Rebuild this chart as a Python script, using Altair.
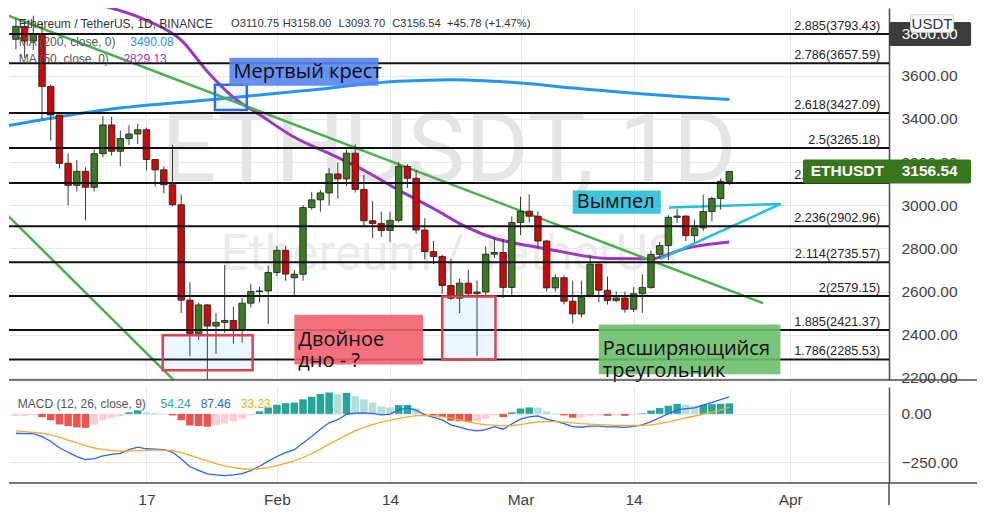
import altair as alt
import pandas as pd

# ================= DATA =================
candle_first_day = "2022-01-02"
candle_last_day = "2022-03-25"

opens = [3769, 3829, 3761, 3794, 3550, 3418, 3194, 3092, 3157, 3083,
         3239, 3372, 3250, 3309, 3330, 3350, 3212, 3164, 3095, 3002,
         2560, 2406, 2538, 2440, 2457, 2466, 2423, 2546, 2600, 2603,
         2688, 2791, 2664, 2680, 2989, 3025, 3057, 3145, 3122, 3241,
         3073, 2928, 2915, 2883, 2930, 3180, 3125, 2885, 2785, 2762,
         2628, 2569, 2639, 2590, 2598, 2773, 2781, 2619, 2920, 2972,
         2949, 2834, 2617, 2664, 2555, 2496, 2576, 2727, 2606, 2558,
         2570, 2518, 2590, 2619, 2772, 2813, 2944, 2950, 2859, 2895,
         2971, 3031, 3110.75]
highs = [3864, 3856, 3878, 3845, 3560, 3420, 3240, 3210, 3176, 3260,
         3413, 3409, 3346, 3370, 3376, 3360, 3212, 3180, 3280, 3050,
         2643, 2548, 2542, 2500, 2724, 2530, 2571, 2636, 2622, 2720,
         2810, 2810, 2700, 3000, 3062, 3070, 3172, 3197, 3258, 3282,
         3140, 3020, 2970, 2970, 3200, 3190, 3163, 2940, 2835, 2770,
         2750, 2660, 2700, 2650, 2810, 2850, 2842, 2948, 3040, 3050,
         2972, 2840, 2680, 2675, 2650, 2650, 2770, 2730, 2670, 2600,
         2600, 2620, 2680, 2790, 2830, 2954, 2982, 2952, 2933, 3049,
         3040, 3124, 3158.00]
lows = [3722, 3683, 3720, 3400, 3300, 3170, 3000, 3063, 2930, 3064,
        3222, 3230, 3180, 3279, 3284, 3160, 3086, 3055, 2995, 2500,
        2300, 2375, 2160, 2310, 2408, 2358, 2363, 2527, 2550, 2450,
        2672, 2650, 2580, 2650, 2980, 2970, 2998, 3030, 3090, 3059,
        2900, 2848, 2853, 2830, 2920, 3080, 2868, 2750, 2728, 2590,
        2560, 2500, 2580, 2300, 2575, 2755, 2570, 2585, 2862, 2920,
        2802, 2600, 2600, 2540, 2452, 2480, 2576, 2550, 2540, 2550,
        2502, 2505, 2500, 2612, 2752, 2745, 2917, 2834, 2829, 2880,
        2925, 2980, 3093.70]
closes = [3829, 3761, 3794, 3550, 3418, 3194, 3092, 3157, 3083, 3239,
          3372, 3250, 3309, 3330, 3350, 3212, 3164, 3095, 3002, 2560,
          2406, 2538, 2440, 2457, 2466, 2423, 2546, 2600, 2603, 2688,
          2791, 2681, 2680, 2989, 3025, 3057, 3145, 3122, 3241, 3073,
          2928, 2915, 2883, 2930, 3180, 3125, 2885, 2785, 2762, 2628,
          2569, 2639, 2590, 2598, 2773, 2781, 2619, 2920, 2972, 2949,
          2834, 2617, 2664, 2555, 2496, 2576, 2727, 2606, 2558, 2570,
          2518, 2590, 2619, 2772, 2813, 2944, 2950, 2859, 2895, 2971,
          3031, 3111, 3156.54]

macd_hist = [-12, -10, -6, -17, -33, -55, -63, -70, -72, -55,
             -33, -20, -12, 8, 18, 8, 5, 2, -8, -33,
             -60, -63, -66, -58, -50, -38, -25, -8, 13, 33,
             47, 55, 58, 75, 88, 103, 110, 103, 108, 92,
             75, 58, 38, 33, 45, 46, 28, 3, -8, -17,
             -35, -38, -40, -38, -25, -8, -17, 8, 28, 33,
             32, 13, 3, -8, -20, -19, -10, -8, -10, -8,
             -10, -4, 3, 17, 30, 42, 52, 47, 42, 47,
             50, 52, 54.24]
macd_line = [-100, -102, -102, -117, -141, -175, -198, -220, -236, -231,
             -217, -209, -204, -184, -172, -180, -182, -185, -197, -233,
             -273, -291, -309, -315, -318, -315, -308, -293, -270, -244,
             -220, -200, -185, -150, -117, -79, -46, -30, -2, 4,
             5, 3, -5, -1, 21, 31, 19, -5, -18, -31,
             -57, -69, -81, -88, -81, -66, -79, -52, -27, -15,
             -10, -27, -37, -50, -66, -69, -63, -63, -67, -67,
             -70, -65, -57, -40, -20, 1, 21, 27, 31, 45,
             59, 73, 87.46]
macd_signal = [-88, -92, -96, -100, -108, -120, -135, -150, -164, -176,
               -184, -189, -192, -192, -190, -188, -187, -187, -189, -200,
               -213, -228, -243, -257, -268, -277, -283, -285, -283, -277,
               -267, -255, -243, -225, -205, -182, -156, -133, -110, -88,
               -70, -55, -43, -34, -24, -15, -9, -8, -10, -14,
               -22, -31, -41, -50, -56, -58, -62, -60, -55, -48,
               -42, -40, -40, -42, -46, -50, -53, -55, -57, -59,
               -60, -61, -60, -57, -50, -41, -31, -20, -11, -2,
               9, 21, 33.23]

ma200_dates = ["2022-01-01", "2022-01-13", "2022-01-24", "2022-02-04", "2022-02-15",
               "2022-02-21", "2022-02-27", "2022-03-08", "2022-03-20", "2022-03-25"]
ma200_values = [3368, 3446, 3488, 3530, 3574, 3582, 3572, 3540, 3502, 3490.08]

ma50_dates = ["2022-01-12", "2022-01-17", "2022-01-21", "2022-01-24", "2022-01-27",
              "2022-01-30", "2022-02-03", "2022-02-07", "2022-02-11", "2022-02-15",
              "2022-02-19", "2022-02-22", "2022-02-26", "2022-03-02", "2022-03-05",
              "2022-03-11", "2022-03-16", "2022-03-20", "2022-03-25"]
ma50_values = [3925, 3857, 3765, 3620, 3500, 3420, 3315, 3240, 3162, 3070,
               2985, 2915, 2847, 2812, 2790, 2753, 2752, 2800, 2829.13]

fib_levels = ["2.885", "2.786", "2.618", "2.5", "2.382", "2.236", "2.114", "2", "1.885", "1.786"]
fib_prices = [3793.43, 3657.59, 3427.09, 3265.18, 3103.30, 2902.96, 2735.57, 2579.15, 2421.37, 2285.53]

trend_ids = ["g1", "g1", "g2", "g2", "c1", "c1", "c2", "c2"]
trend_times = ["2022-01-01 00:00", "2022-03-28 21:00", "2022-01-01 00:00", "2022-01-21 06:00",
               "2022-03-18 02:00", "2022-03-30 22:00", "2022-03-17 01:00", "2022-03-30 22:00"]
trend_prices = [3881, 2546, 2955, 2145, 2990, 3006, 2751, 3006]

hl_ids = ["cross", "bottom1", "bottom2"]
hl_t1 = ["2022-01-24 21:00", "2022-01-18 21:00", "2022-02-20 00:00"]
hl_t2 = ["2022-01-28 13:00", "2022-01-29 05:00", "2022-02-26 03:00"]
hl_p1 = [3558, 2397, 2577]
hl_p2 = [3441, 2235, 2285]

lab_ids = ["cross", "bottom", "pennant", "triangle"]
lab_texts = ["Мертвый крест", "Двойное\nдно - ?", "Вымпел", "Расширяющийся\nтреугольник"]
lab_t1 = ["2022-01-26 13:00", "2022-02-03 00:00", "2022-03-07 00:00", "2022-03-10 00:00"]
lab_t2 = ["2022-02-12 16:00", "2022-02-17 19:00", "2022-03-17 03:00", "2022-03-30 21:00"]
lab_p1 = [3684, 2492, 3068, 2447]
lab_p2 = [3554, 2262, 2960, 2217]

price_ticks = [2200, 2400, 2600, 2800, 3000, 3200, 3400, 3600, 3800]
macd_ticks = [0, -250]
date_ticks = ["2022-01-17", "2022-02-01", "2022-02-14", "2022-03-01", "2022-03-14", "2022-04-01"]
date_tick_labels = ["17", "Feb", "14", "Mar", "14", "Apr"]

# ================= LAYOUT / STYLE =================
W = 880
H1 = 372
H2 = 96
SX = W / 900.0
SY = H1 / 383.0
SY2 = H2 / 99.0
FONT = "Liberation Sans"
AFONT = "Open Sans"
GRID = "#e8e8e8"
LABEL = "#3f3f3f"
FRAME = "#4a4a4a"
GREEN = "#3b7b22"
RED = "#cc0a0a"
ORANGE = "#f5ac2a"
P_MIN, P_MAX = 2190, 3914
PPP = (P_MAX - P_MIN) / H1  # price per pixel

BASE = pd.Timestamp("2022-01-01")


def day(s):
    return (pd.Timestamp(s) - BASE) / pd.Timedelta(days=1)


cdays = [day(d) for d in pd.date_range(candle_first_day, candle_last_day, freq="D")]
candles = pd.DataFrame({"t": cdays, "o": opens, "h": highs, "l": lows, "c": closes})

cats = []
prev = None
for hv in macd_hist:
    if hv >= 0:
        cats.append("ug" if (prev is None or hv > prev) else "uf")
    else:
        cats.append("df" if (prev is not None and hv < prev) else "dg")
    prev = hv
macd_df = pd.DataFrame({"t": cdays, "hist": macd_hist, "macd": macd_line,
                        "signal": macd_signal, "cat": cats})

ma200_df = pd.DataFrame({"t": [day(d) for d in ma200_dates], "v": ma200_values})
ma50_df = pd.DataFrame({"t": [day(d) for d in ma50_dates], "v": ma50_values})
fib_df = pd.DataFrame({"p": fib_prices,
                       "lbl": [f"{l}({p:.2f})" for l, p in zip(fib_levels, fib_prices)]})
trend_df = pd.DataFrame({"id": trend_ids, "t": [day(s) for s in trend_times], "p": trend_prices})
hl_df = pd.DataFrame({"id": hl_ids, "t1": [day(s) for s in hl_t1], "t2": [day(s) for s in hl_t2],
                      "p1": hl_p1, "p2": hl_p2})
lab_df = pd.DataFrame({"id": lab_ids, "txt": lab_texts,
                       "t1": [day(s) for s in lab_t1], "t2": [day(s) for s in lab_t2],
                       "p1": lab_p1, "p2": lab_p2})
lab_df["pm"] = (lab_df["p1"] + lab_df["p2"]) / 2

last_close = closes[-1]
eth_df = pd.DataFrame({"p": [last_close], "y1": [last_close + 12 * PPP], "y2": [last_close - 12 * PPP]})
top_df = pd.DataFrame({"p": [fib_prices[0]], "y1": [fib_prices[0] + 12 * PPP], "y2": [fib_prices[0] - 12 * PPP]})

tick_days = [day(d) for d in date_ticks]
label_expr = "".join(f"datum.value == {d} ? '{l}' : " for d, l in zip(tick_days, date_tick_labels)) + "''"

XS = alt.Scale(domain=[0.78, 100.78], nice=False, zero=False)
PS = alt.Scale(domain=[P_MIN, P_MAX], nice=False, zero=False)
MS = alt.Scale(domain=[-356.5, 138.5], nice=False, zero=False)

AX_MAIN_X = alt.Axis(values=tick_days, labels=False, ticks=False, tickSize=0, domain=False,
                     grid=True, gridColor=GRID, title=None)
AX_MAIN_Y = alt.Axis(orient="right", values=price_ticks, format=".2f", labelFont=FONT,
                     labelFontSize=15.5, labelColor=LABEL, ticks=False, tickSize=0, labelPadding=12,
                     domain=True, domainColor=FRAME, domainWidth=1.5, grid=True, gridColor=GRID,
                     title=None)
AX_M_X = alt.Axis(values=tick_days, labelExpr=label_expr, labelFont=FONT, labelFontSize=15.5,
                  labelColor=LABEL, ticks=False, tickSize=0, labelPadding=9, domain=False,
                  grid=True, gridColor=GRID, title=None)
AX_M_Y = alt.Axis(orient="right", values=macd_ticks, format=".2f", labelFont=FONT,
                  labelFontSize=15.5, labelColor=LABEL, ticks=False, tickSize=0, labelPadding=12,
                  domain=True, domainColor=FRAME, domainWidth=1.5, grid=True, gridColor=GRID,
                  title=None)


def mx(f):
    return alt.X(f"{f}:Q", scale=XS, axis=AX_MAIN_X)


def my(f):
    return alt.Y(f"{f}:Q", scale=PS, axis=AX_MAIN_Y)


def qx(f):
    return alt.X(f"{f}:Q", scale=XS, axis=AX_M_X)


def qy(f):
    return alt.Y(f"{f}:Q", scale=MS, axis=AX_M_Y)


one = pd.DataFrame({"k": [0]})


def ptext(txt, x, y, size, color, font=FONT, weight="normal", align="left", baseline="middle"):
    return alt.Chart(one).mark_text(text=txt, font=font, fontSize=size, color=color,
                                    fontWeight=weight, align=align, baseline=baseline).encode(
        x=alt.value(x), y=alt.value(y))


def prect(x1, x2, y1, y2, **kw):
    return alt.Chart(one).mark_rect(**kw).encode(x=alt.value(x1), x2=alt.value(x2),
                                                 y=alt.value(y1), y2=alt.value(y2))


# ================= MAIN PANEL =================
wm1 = ptext("ETHUSDT, 1D", 450 * SX, 178 * SY, 100 * SY, "#e5e5e5", font="Roboto",
            align="center", baseline="alphabetic")
wm2 = ptext("Ethereum / TetherUS", 450 * SX, 270 * SY, 51 * SY, "#ebebeb", font="Roboto",
            align="center", baseline="alphabetic")

ma200 = alt.Chart(ma200_df).mark_line(color="#2196f3", strokeWidth=3, interpolate="monotone",
                                      clip=True).encode(x=mx("t"), y=my("v"))
ma50 = alt.Chart(ma50_df).mark_line(color="#9b38c0", strokeWidth=3, interpolate="monotone",
                                    clip=True).encode(x=mx("t"), y=my("v"))
trend = alt.Chart(trend_df).mark_line(strokeWidth=2.5, clip=True).encode(
    x=mx("t"), y=my("p"),
    stroke=alt.Stroke("id:N", scale=alt.Scale(domain=["g1", "g2", "c1", "c2"],
                                              range=["#4caf50", "#4caf50", "#1fc1dc", "#1fc1dc"]),
                      legend=None))

wicks = alt.Chart(candles).mark_rule(color="#3a3a3a", strokeWidth=1, clip=True).encode(
    x=mx("t"), y=my("l"), y2="h")
bodies = alt.Chart(candles).mark_bar(size=6.5, stroke="#1a1a1a", strokeWidth=0.8, clip=True).encode(
    x=mx("t"), y=my("o"), y2="c",
    fill=alt.condition("datum.c >= datum.o", alt.value(GREEN), alt.value(RED)))

fib_rules = alt.Chart(fib_df).mark_rule(color="#111111", strokeWidth=2).encode(y=my("p"))
fib_labels = alt.Chart(fib_df).mark_text(align="right", baseline="bottom", dy=-1, font=FONT,
                                         fontSize=12.7, color="#222222").encode(
    x=alt.value(W - 9 * SX), y=my("p"), text="lbl:N")

hl_blue = alt.Chart(hl_df).transform_filter("datum.id == 'cross'").mark_rect(
    fill="#2196f3", fillOpacity=0.09, stroke="#2f6ce5", strokeWidth=2.5).encode(
    x=mx("t1"), x2="t2", y=my("p1"), y2="p2")
hl_red = alt.Chart(hl_df).transform_filter("datum.id != 'cross'").mark_rect(
    fill="#2196f3", fillOpacity=0.09, stroke="#e2404f", strokeWidth=2.5).encode(
    x=mx("t1"), x2="t2", y=my("p1"), y2="p2")

lab_boxes = alt.Chart(lab_df).mark_rect(opacity=0.9).encode(
    x=mx("t1"), x2="t2", y=my("p1"), y2="p2",
    fill=alt.Fill("id:N", scale=alt.Scale(domain=["cross", "bottom", "pennant", "triangle"],
                                          range=["#5585f2", "#f2616f", "#27bfd8", "#6dbf6d"]),
                  legend=None))
lab_text = alt.Chart(lab_df).mark_text(align="left", baseline="middle", dx=4, font=AFONT,
                                       fontSize=20, lineBreak="\n", lineHeight=21.5,
                                       color="#0d0d0d").encode(
    x=mx("t1"), y=my("pm"), text="txt:N")

eth_box = alt.Chart(eth_df).mark_rect(fill="#38761d", cornerRadius=2).encode(
    x=alt.value(W - 88 * SX), x2=alt.value(W + 84 * SX), y=my("y1"), y2="y2")
eth_t1 = alt.Chart(eth_df).mark_text(text="ETHUSDT", align="left", baseline="middle", font=FONT,
                                     fontSize=15.5, fontWeight="bold", color="white").encode(
    x=alt.value(W - 80 * SX), y=my("p"))
eth_t2 = alt.Chart(eth_df).mark_text(text=f"{last_close:.2f}", align="left", baseline="middle",
                                     font=FONT, fontSize=15.5, fontWeight="bold",
                                     color="white").encode(x=alt.value(W + 13 * SX), y=my("p"))

top_box = alt.Chart(top_df).mark_rect(fill="#3c3c3c", cornerRadius=2).encode(
    x=alt.value(W), x2=alt.value(W + 84 * SX), y=my("y1"), y2="y2")
top_txt = alt.Chart(top_df).mark_text(text="3800.00", align="left", baseline="middle", font=FONT,
                                      fontSize=15.5, color="white").encode(
    x=alt.value(W + 13 * SX), y=my("p"))
usdt_box = prect(W + 22 * SX, W + 66 * SX, 7 * SY, 25 * SY, fill="white", stroke="#cfcfcf",
                 strokeWidth=1, cornerRadius=3)
usdt_txt = ptext("USDT", W + 44 * SX, 16.5 * SY, 15, "#333333", align="center")

HDR = 12
OHLC = 11.2
headers = [
    ptext("Ethereum / TetherUS, 1D, BINANCE", 10 * SX, 16 * SY, HDR, "#333333"),
    ptext("O3110.75", 227 * SX, 16 * SY, OHLC, "#333333"),
    ptext("H3158.00", 280 * SX, 16 * SY, OHLC, "#333333"),
    ptext("L3093.70", 337 * SX, 16 * SY, OHLC, "#333333"),
    ptext("C3156.54", 392 * SX, 16 * SY, OHLC, "#333333"),
    ptext("+45.78 (+1.47%)", 448 * SX, 16 * SY, OHLC, "#333333"),
    ptext("MA (200, close, 0)", 10 * SX, 35 * SY, HDR, "#555555"),
    ptext("3490.08", 124 * SX, 35 * SY, HDR, "#2196f3"),
    ptext("MA (50, close, 0)", 10 * SX, 53 * SY, HDR, "#555555"),
    ptext("2829.13", 117 * SX, 53 * SY, HDR, "#9b38c0"),
]

sep1 = alt.Chart(one).mark_rule(color=FRAME, strokeWidth=1.5).encode(
    x=alt.value(0), x2=alt.value(W + 88), y=alt.value(H1))

main = alt.layer(wm1, wm2, ma200, ma50, trend, wicks, bodies, fib_rules, fib_labels,
                 hl_blue, hl_red, lab_boxes, lab_text, eth_box, eth_t1, eth_t2,
                 top_box, top_txt, usdt_box, usdt_txt, *headers, sep1).properties(
    width=W, height=H1)

# ================= MACD PANEL =================
hist = alt.Chart(macd_df).mark_bar(size=7.5).encode(
    x=qx("t"), y=qy("hist"), y2=alt.Y2(datum=0),
    fill=alt.Fill("cat:N", scale=alt.Scale(domain=["ug", "uf", "df", "dg"],
                                           range=["#26a69a", "#b2dfdb", "#ef5350", "#ffcdd2"]),
                  legend=None))
mline = alt.Chart(macd_df).mark_line(color="#2962ff", strokeWidth=1.3).encode(x=qx("t"), y=qy("macd"))
sline = alt.Chart(macd_df).mark_line(color=ORANGE, strokeWidth=1.3).encode(x=qx("t"), y=qy("signal"))

my_ = 18 * SY2
macd_labels = [
    ptext("MACD (12, 26, close, 9)", 9 * SX, my_, HDR, "#555555"),
    ptext("54.24", 155 * SX, my_, HDR, "#26a69a"),
    ptext("87.46", 196 * SX, my_, HDR, "#2962ff"),
    ptext("33.23", 237 * SX, my_, HDR, ORANGE),
]
sep2 = alt.Chart(one).mark_rule(color=FRAME, strokeWidth=1.5).encode(
    x=alt.value(0), x2=alt.value(W + 88), y=alt.value(H2))
vsep = alt.Chart(one).mark_rule(color=FRAME, strokeWidth=1.5).encode(
    x=alt.value(W), y=alt.value(H2), y2=alt.value(H2 + 22))

macd = alt.layer(hist, mline, sline, *macd_labels, sep2, vsep).properties(width=W, height=H2)

chart = alt.vconcat(main, macd, spacing=0,
                    padding={"left": 0, "top": 0, "right": 0, "bottom": 0},
                    background="white").resolve_scale(
    color="independent", fill="independent", stroke="independent"
).configure_view(strokeWidth=0)

chart.save("out.html", embed_options={"renderer": "svg", "actions": False})
